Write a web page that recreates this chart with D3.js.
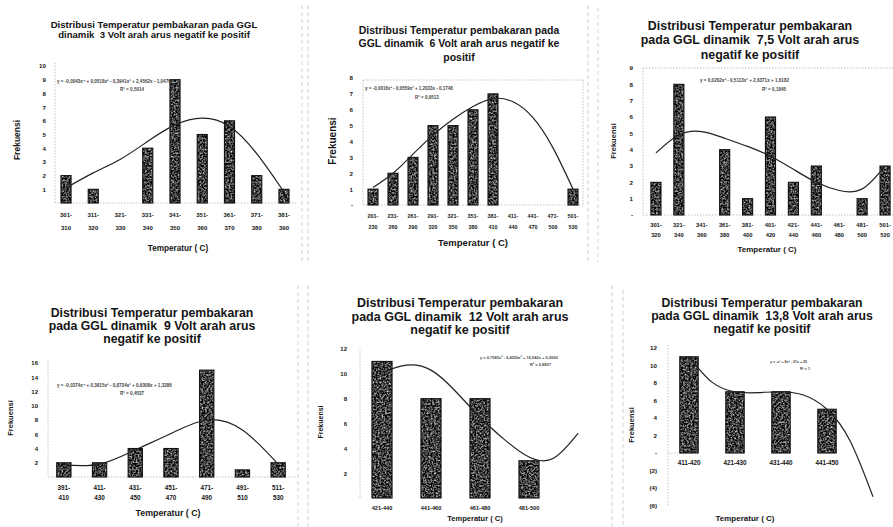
<!DOCTYPE html>
<html><head><meta charset="utf-8">
<script src="https://cdn.jsdelivr.net/npm/d3@7"></script>
<style>
body{margin:0;background:#fff;}
svg{display:block;background:#fff;}
text{font-family:'Liberation Sans',Arial,sans-serif;font-weight:bold;fill:#151515;white-space:pre;}
</style></head><body>
<svg id="chart" width="893" height="527"></svg>
<script>
// ---------- data: temperature distribution per dynamic EMF (GGL) level ----------
const cats3V   = ["301-310","311-320","321-330","331-340","341-350","351-360","361-370","371-380","381-390"];
const freq3V   = [2,1,0,4,9,5,6,2,1];
const trend3V  = [[0,1.1],[1,2.2],[2,3.2],[3,4.5],[4,5.7],[5,6.2],[6,5.6],[7,3.6],[8,0.8]];
const yTicks3V = [1,2,3,4,5,6,7,8,9,10];
const title3V  = ["Distribusi Temperatur pembakaran pada GGL","dinamik  3 Volt arah arus negatif ke positif"];
const eq3V     = ["y = -0,0043x⁴ + 0,0518x³ - 0,3941x² + 2,4562x - 1,0476","R² = 0,5014"];

const cats6V   = ["201-230","231-260","261-290","291-320","321-350","351-380","381-410","411-440","441-470","471-500","501-530"];
const freq6V   = [1,2,3,5,5,6,7,0,0,0,1];
const trend6V  = [[0,1.1],[1,2.0],[2,3.2],[3,4.4],[4,5.4],[5,6.2],[6,6.7],[7,6.5],[8,5.5],[9,3.6],[10,1.0]];
const yTicks6V = [0,1,2,3,4,5,6,7,8];
const title6V  = ["Distribusi Temperatur pembakaran pada","GGL dinamik  6 Volt arah arus negatif ke","positif"];
const eq6V     = ["y = -0,0016x³ - 0,0559x² + 1,2033x - 0,1748","R² = 0,9513"];

const cats7V   = ["301-320","321-340","341-360","361-380","381-400","401-420","421-440","441-460","461-480","481-500","501-520"];
const freq7V   = [2,8,0,4,1,6,2,3,0,1,3];
const trend7V  = [[0,3.8],[1,4.9],[2,5.1],[3,4.7],[4,4.2],[5,3.6],[6,2.8],[7,2.0],[8,1.5],[9,1.6],[10,3.0]];
const yTicks7V = [0,1,2,3,4,5,6,7,8,9];
const title7V  = ["Distribusi Temperatur pembakaran","pada GGL dinamik  7,5 Volt arah arus","negatif ke positif"];
const eq7V     = ["y = 0,0262x³ - 0,5113x² + 2,6371x + 1,6182","R² = 0,1845"];

const cats9V   = ["391-410","411-430","431-450","451-470","471-490","491-510","511-530"];
const freq9V   = [2,2,4,4,15,1,2];
const trend9V  = [[0,1.7],[1,1.8],[2,3.8],[3,6.1],[4,8.0],[5,6.6],[6,1.8]];
const yTicks9V = [2,4,6,8,10,12,14,16];
const title9V  = ["Distribusi Temperatur pembakaran","pada GGL dinamik  9 Volt arah arus","negatif ke positif"];
const eq9V     = ["y = -0,0374x⁴ + 0,3915x³ - 0,8734x² + 0,9308x + 1,3286","R² = 0,4537"];

const cats12V   = ["421-440","441-460","461-480","481-500"];
const freq12V   = [11,8,8,3];
const trend12V  = [[0,10.1],[0.5,10.7],[1,10.3],[1.5,8.6],[2,6.5],[2.5,4.7],[3,3.3],[3.5,3.2],[4,5.2]];
const yTicks12V = [2,4,6,8,10,12];
const title12V  = ["Distribusi Temperatur pembakaran","pada GGL dinamik  12 Volt arah arus","negatif ke positif"];
const eq12V     = ["y = 0,7583x³ - 6,4250x² + 15,542x + 0,2000","R² = 0,8827"];

const cats13V   = ["411-420","421-430","431-440","441-450"];
const freq13V   = [11,7,7,5];
const trend13V  = [[0,11],[0.5,8.1],[1,7],[1.5,6.9],[2,7],[2.5,6.6],[3,5],[3.5,1.4],[4,-5]];
const yTicks13V = [-6,-4,-2,0,2,4,6,8,10,12];
const title13V  = ["Distribusi Temperatur pembakaran","pada GGL dinamik  13,8 Volt arah arus","negatif ke positif"];
const eq13V     = ["y = -x³ + 8x² - 21x + 25","R² = 1"];

const yLabel = "Frekuensi";
const xLabel = "Temperatur ( C)";

// ---------- layout of the six chart panels ----------
const panels = [
  { cats:cats3V, freq:freq3V, trend:trend3V, ticks:yTicks3V, yDomain:[0,10], title:title3V, eq:eq3V,
    L:{ xRange:[52.4,297.6], pad:0.63, yRange:[203,66], axisX:55, top:63, right:298, frame:"lb",
        tickX:46, tickSize:6.2, xLab:[215,228], xLabSize:6, twoLine:true,
        xTitle:[178,248,8.2], yTitle:[17,140,8.5], title:[154,[25,35],9.6], eq:[57,81,120,89,4.6] } },
  { cats:cats6V, freq:freq6V, trend:trend6V, ticks:yTicks6V, yDomain:[0,8], title:title6V, eq:eq6V,
    L:{ xRange:[363,583], pad:0.5, yRange:[205,78], axisX:363, top:80, right:583, frame:"lbtr",
        tickX:353, tickSize:6.2, xLab:[216,227], xLabSize:5.4, twoLine:true,
        xTitle:[473,243,9.5], yTitle:[332,141,10], title:[459,[30,43,57],10.5], eq:[365,88,415,97,4.5] } },
  { cats:cats7V, freq:freq7V, trend:trend7V, ticks:yTicks7V, yDomain:[0,9], title:title7V, eq:eq7V,
    L:{ xRange:[644.5,896.5], pad:0.56, yRange:[215,68], axisX:643, top:68, right:893, frame:"lbt",
        tickX:633, tickSize:6.2, xLab:[225,235], xLabSize:5.8, twoLine:true,
        xTitle:[767,249,8], yTitle:[613,141,7.5], title:[750,[26,40,55],12.4], eq:[700,80,762,89,4.6] } },
  { cats:cats9V, freq:freq9V, trend:trend9V, ticks:yTicks9V, yDomain:[0,16], title:title9V, eq:eq9V,
    L:{ xRange:[46,296], pad:0.6, yRange:[477,363], axisX:48, top:360, right:296, frame:"lb",
        tickX:38, tickSize:6, xLab:[488,498], xLabSize:6.3, twoLine:true,
        xTitle:[168,513,8.8], yTitle:[10,418,7.5], title:[152,[313,326,339],12.3], eq:[57,385,120,393,4.6] } },
  { cats:cats12V, freq:freq12V, trend:trend12V, ticks:yTicks12V, yDomain:[0,12], title:title12V, eq:eq12V,
    L:{ xRange:[357.5,553.5], pad:0.59, yRange:[498,349], axisX:360, top:349, right:590, frame:"l",
        tickX:347, tickSize:6, xLab:[508], xLabSize:5.6, twoLine:false,
        xTitle:[475,518,7.5], yTitle:[321,422,7], title:[460,[303,317,330],12.5], eq:[480,358,530,365,4] } },
  { cats:cats13V, freq:freq13V, trend:trend13V, ticks:yTicks13V, yDomain:[-6,12], title:title13V, eq:eq13V,
    L:{ xRange:[666,850], pad:0.6, yRange:[505.5,348], axisX:668, top:345, right:872, frame:"l0",
        tickX:657, tickSize:6.2, xLab:[463], xLabSize:6.3, twoLine:false,
        xTitle:[745,518,8], yTitle:[631,425,7.5], title:[762,[303,316,329],12.2], eq:[770,362,800,369,3.6] } }
];

const svg = d3.select("#chart");

// grain texture used for the column fills
const defs = svg.append("defs");
const f = defs.append("filter").attr("id","grain")
  .attr("x",0).attr("y",0).attr("width",1).attr("height",1)
  .attr("color-interpolation-filters","sRGB");
f.append("feTurbulence").attr("type","fractalNoise").attr("baseFrequency",0.55)
  .attr("numOctaves",3).attr("seed",5).attr("result","n");
f.append("feColorMatrix").attr("in","n").attr("type","matrix")
  .attr("values","1.5 0 0 0 -0.5  1.5 0 0 0 -0.5  1.5 0 0 0 -0.5  0 0 0 0 1").attr("result","g");
f.append("feComposite").attr("in","g").attr("in2","SourceAlpha").attr("operator","in");

// faint frame edges between the chart objects
const frameLines = [
  [302,5,302,262],[308,5,308,262],[588,5,588,262],[598,8,598,262],
  [298,285,298,527],[308,285,308,527],[612,285,612,527],[623,290,623,527]
];
svg.append("g").selectAll("line").data(frameLines).join("line")
  .attr("x1",d=>d[0]).attr("y1",d=>d[1]).attr("x2",d=>d[2]).attr("y2",d=>d[3])
  .attr("stroke","#c4c4c4").attr("stroke-width",0.8).attr("stroke-dasharray","4,3");

const fmt = v => v === 0 ? "-" : (v < 0 ? `(${-v})` : String(v));

panels.forEach(p => {
  const L = p.L;
  const g = svg.append("g");
  const x = d3.scaleBand().domain(p.cats).range(L.xRange).paddingInner(L.pad).paddingOuter(L.pad/2);
  const y = d3.scaleLinear().domain(p.yDomain).range(L.yRange);
  const bw = x.bandwidth();
  const xc = d3.scaleLinear().domain([0, p.cats.length-1])
    .range([x(p.cats[0])+bw/2, x(p.cats[p.cats.length-1])+bw/2]);
  const y0 = y(Math.max(0, p.yDomain[0]));

  // plot area edges (dotted, light)
  const edge = g.append("g").attr("stroke","#b5b5b5").attr("stroke-width",0.8).attr("stroke-dasharray","1.5,1.5");
  const bottom = y(p.yDomain[0]);
  if (L.frame.includes("l")) edge.append("line").attr("x1",L.axisX).attr("x2",L.axisX).attr("y1",L.top).attr("y2",bottom);
  if (L.frame.includes("b")) edge.append("line").attr("x1",L.axisX).attr("x2",L.right).attr("y1",bottom).attr("y2",bottom);
  if (L.frame.includes("t")) edge.append("line").attr("x1",L.axisX).attr("x2",L.right).attr("y1",L.top).attr("y2",L.top);
  if (L.frame.includes("r")) edge.append("line").attr("x1",L.right).attr("x2",L.right).attr("y1",L.top).attr("y2",bottom);
  if (L.frame.includes("0")) edge.append("line").attr("x1",L.axisX).attr("x2",L.axisX+22).attr("y1",y(0)).attr("y2",y(0));

  // columns
  const rows = p.cats.map((c,i) => ({c, v:p.freq[i]})).filter(d => d.v > 0);
  g.append("g").selectAll("rect").data(rows).join("rect")
    .attr("x", d => x(d.c)).attr("width", bw)
    .attr("y", d => y(d.v)).attr("height", d => y0 - y(d.v))
    .attr("fill","#444").attr("filter","url(#grain)");
  g.append("g").selectAll("rect").data(rows).join("rect")
    .attr("x", d => x(d.c)).attr("width", bw)
    .attr("y", d => y(d.v)).attr("height", d => y0 - y(d.v))
    .attr("fill","none").attr("stroke","#111").attr("stroke-width",1.1);

  // polynomial trendline
  g.append("path").datum(p.trend)
    .attr("d", d3.line().x(d => xc(d[0])).y(d => y(d[1])).curve(d3.curveNatural))
    .attr("fill","none").attr("stroke","#222").attr("stroke-width",1.2);

  // y axis labels
  const ya = g.append("g").attr("transform",`translate(${L.tickX},0)`)
    .call(d3.axisLeft(y).tickValues(p.ticks).tickSize(0).tickPadding(0).tickFormat(fmt));
  ya.select(".domain").remove();
  ya.attr("font-family",null).attr("font-size",null);
  ya.selectAll("text").attr("font-size",L.tickSize).attr("fill","#151515");

  // category labels
  const xl = g.append("g").selectAll("text").data(p.cats).join("text")
    .attr("text-anchor","middle").attr("font-size",L.xLabSize)
    .attr("transform", d => `translate(${x(d)+bw/2},${L.xLab[0]})`);
  if (L.twoLine) {
    xl.each(function(d){
      const parts = d.split("-");
      const t = d3.select(this);
      t.append("tspan").attr("x",0).attr("dy","0.35em").text(parts[0]+"-");
      t.append("tspan").attr("x",0).attr("y",L.xLab[1]-L.xLab[0]).attr("dy","0.35em").text(parts[1]);
    });
  } else {
    xl.attr("dy","0.35em").text(d => d);
  }

  // axis titles
  g.append("text").attr("x",L.xTitle[0]).attr("y",L.xTitle[1]).attr("dy","0.35em")
    .attr("text-anchor","middle").attr("font-size",L.xTitle[2]).text(xLabel);
  g.append("text").attr("transform",`translate(${L.yTitle[0]},${L.yTitle[1]}) rotate(-90)`)
    .attr("dy","0.35em").attr("text-anchor","middle").attr("font-size",L.yTitle[2]).text(yLabel);

  // chart title
  g.append("g").selectAll("text").data(p.title).join("text")
    .attr("x",L.title[0]).attr("y",(d,i)=>L.title[1][i]).attr("dy","0.35em")
    .attr("text-anchor","middle").attr("font-size",L.title[2]).text(d=>d);

  // trendline equation
  g.append("text").attr("x",L.eq[0]).attr("y",L.eq[1]).attr("dy","0.35em")
    .attr("font-size",L.eq[4]).attr("font-weight","normal").style("fill","#444").text(p.eq[0]);
  g.append("text").attr("x",L.eq[2]).attr("y",L.eq[3]).attr("dy","0.35em")
    .attr("font-size",L.eq[4]).attr("font-weight","normal").style("fill","#444").text(p.eq[1]);
});
</script>
</body></html>
